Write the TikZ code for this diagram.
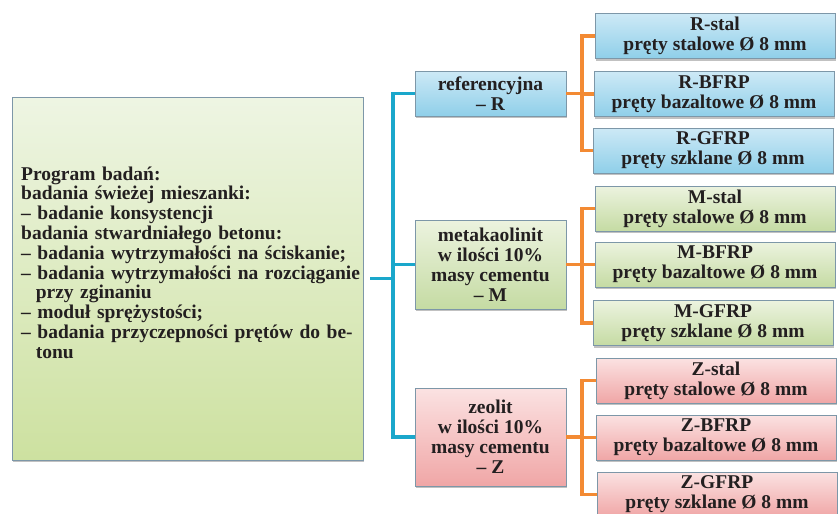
\documentclass[tikz,border=0pt]{standalone}
\usepackage{fontspec}
\setmainfont{Liberation Serif}
\usetikzlibrary{shadows}
\definecolor{txt}{HTML}{231F20}
\definecolor{bord}{HTML}{7D97A8}
\definecolor{cyanline}{HTML}{1AA7CB}
\definecolor{orangeline}{HTML}{F38A33}
\definecolor{bluetop}{HTML}{CDE9F6}
\definecolor{bluebot}{HTML}{8FCFE9}
\definecolor{greentop}{HTML}{ECF3DF}
\definecolor{greenbot}{HTML}{C5DBA3}
\definecolor{redtop}{HTML}{FBE2E2}
\definecolor{redbot}{HTML}{F0A6A6}
\definecolor{maintop}{HTML}{EEF5E3}
\definecolor{mainbot}{HTML}{CDE1A0}
\tikzset{
  basebox/.style={rectangle, draw=bord, line width=0.8pt, inner sep=0pt,
    text=txt, align=center, font=\bfseries\fontsize{19.5}{20}\selectfont,
    drop shadow={shadow xshift=1.2pt, shadow yshift=-2.2pt, opacity=0.35, fill=black!70}},
  bluebox/.style={basebox, top color=bluetop, bottom color=bluebot},
  greenbox/.style={basebox, top color=greentop, bottom color=greenbot},
  redbox/.style={basebox, top color=redtop, bottom color=redbot},
  leafbox/.style={minimum width=240pt, minimum height=45pt},
  midbox/.style={minimum width=151pt},
  bline/.style={draw=cyanline, line width=3.5pt},
  oline/.style={draw=orangeline, line width=3.5pt},
}
\begin{document}
\begin{tikzpicture}[x=1pt,y=-1pt]
\useasboundingbox (0,0) rectangle (839,514);
% main box
\node[basebox, top color=maintop, bottom color=mainbot, minimum width=351pt, minimum height=363pt] (main) at (187.5,278.5) {};
\node[anchor=base west, text width=345pt, align=left, inner sep=0pt, text=txt,
      font=\bfseries\fontsize{19.5}{19.8}\selectfont] (maintext) at (21,180)
{Program badań:\\
badania świeżej mieszanki:\\
– badanie konsystencji\\
badania stwardniałego betonu:\\
– badania wytrzymałości na ściskanie;\\
– badania wytrzymałości na rozciąganie\\
\hspace*{14.6pt}przy zginaniu\\
– moduł sprężystości;\\
– \makebox[321pt][s]{badania przyczepności prętów do be-}\\
\hspace*{14.6pt}tonu};
% level 2
\node[bluebox, midbox, minimum height=45pt] (R) at (490.5,93.5) {referencyjna\\– R};
\node[greenbox, midbox, minimum height=89pt] (M) at (490.5,264.5) {metakaolinit\\w ilości 10\%\\masy cementu\\– M};
\node[redbox, midbox, minimum height=98pt] (Z) at (490.5,437) {zeolit\\w ilości 10\%\\masy cementu\\– Z};
% level 3
\node[bluebox, leafbox] (Rs) at (715,36) {R-stal\\pręty stalowe Ø 8 mm};
\node[bluebox, leafbox] (Rb) at (714,94) {R-BFRP\\pręty bazaltowe Ø 8 mm};
\node[bluebox, leafbox] (Rg) at (713,150.5) {R-GFRP\\pręty szklane Ø 8 mm};
\node[greenbox, leafbox] (Ms) at (715,208.5) {M-stal\\pręty stalowe Ø 8 mm};
\node[greenbox, leafbox] (Mb) at (715,264.5) {M-BFRP\\pręty bazaltowe Ø 8 mm};
\node[greenbox, leafbox] (Mg) at (713,323) {M-GFRP\\pręty szklane Ø 8 mm};
\node[redbox, leafbox] (Zs) at (716,380.5) {Z-stal\\pręty stalowe Ø 8 mm};
\node[redbox, leafbox] (Zb) at (716,437.5) {Z-BFRP\\pręty bazaltowe Ø 8 mm};
\node[redbox, leafbox] (Zg) at (717,494.5) {Z-GFRP\\pręty szklane Ø 8 mm};
% connectors
\coordinate (bus) at (393,0);
\coordinate (ob) at (582,0);
\draw[bline, line join=miter] (R.west) -- (bus |- R.west) -- (bus |- Z.west) -- (Z.west);
\draw[bline] (M.west) -- (bus |- M.west);
\draw[bline, shorten <=7pt] (main.east) -- (bus |- main.east);
\draw[oline] (R.east) -- (ob |- R.east);
\draw[oline] (Rs.west) -- (ob |- Rs.west) -- (ob |- Rg.west) -- (Rg.west);
\draw[oline] (Rb.west) -- (ob |- Rb.west);
\draw[oline] (M.east) -- (ob |- M.east);
\draw[oline] (Ms.west) -- (ob |- Ms.west) -- (ob |- Mg.west) -- (Mg.west);
\draw[oline] (Mb.west) -- (ob |- Mb.west);
\draw[oline] (Z.east) -- (ob |- Z.east);
\draw[oline] (Zs.west) -- (ob |- Zs.west) -- (ob |- Zg.west) -- (Zg.west);
\draw[oline] (Zb.west) -- (ob |- Zb.west);
\end{tikzpicture}
\end{document}
